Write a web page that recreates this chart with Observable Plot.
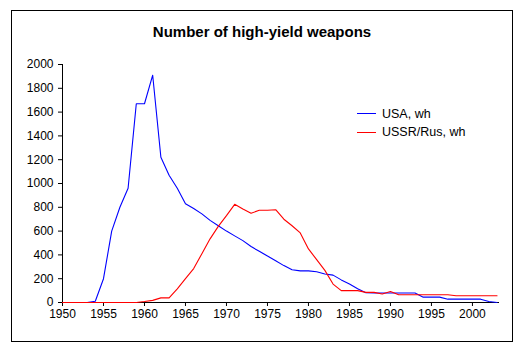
<!DOCTYPE html>
<html>
<head>
<meta charset="utf-8">
<script src="https://cdn.jsdelivr.net/npm/d3@7"></script>
<script src="https://cdn.jsdelivr.net/npm/@observablehq/plot@0.6"></script>
<style>
  html, body { margin: 0; padding: 0; background: #fff; }
  #wrap { position: relative; width: 524px; height: 352px; font-family: "Liberation Sans", Arial, sans-serif; color: #000; }
  #frame { position: absolute; left: 11px; top: 10px; width: 502px; height: 332px; border: 1px solid #000; box-sizing: border-box; pointer-events: none; }
  #title { position: absolute; left: 0; width: 524px; top: 24px; text-align: center; font-weight: bold; font-size: 15px; line-height: 15px; }
  .leg { position: absolute; left: 357px; font-size: 12.5px; line-height: 12.5px; white-space: nowrap; display: flex; align-items: center; }
  .leg .sw { display: inline-block; width: 19px; height: 0; border-top: 1px solid; margin-right: 6px; }
  #chart svg { display: block; }
</style>
</head>
<body>
<div id="wrap">
  <div id="chart"></div>
  <div id="frame"></div>
  <div id="title"></div>
  <div id="legend"></div>
</div>
<script>
const chartTitle = "Number of high-yield weapons";
const seriesNames = ["USA, wh", "USSR/Rus, wh"];
const seriesColors = ["#0000ff", "#ff0000"];
const years = [1950, 1951, 1952, 1953, 1954, 1955, 1956, 1957, 1958, 1959,
  1960, 1961, 1962, 1963, 1964, 1965, 1966, 1967, 1968, 1969,
  1970, 1971, 1972, 1973, 1974, 1975, 1976, 1977, 1978, 1979,
  1980, 1981, 1982, 1983, 1984, 1985, 1986, 1987, 1988, 1989,
  1990, 1991, 1992, 1993, 1994, 1995, 1996, 1997, 1998, 1999,
  2000, 2001, 2002, 2003];
const usa = [0, 0, 0, 0, 10, 200, 600, 800, 960, 1670,
  1670, 1910, 1220, 1070, 960, 830, 790, 745, 690, 645,
  600, 560, 520, 470, 430, 390, 350, 310, 275, 266,
  266, 258, 240, 230, 190, 155, 115, 82, 80, 80,
  80, 80, 80, 80, 45, 45, 45, 28, 28, 28,
  28, 28, 8, 0];
const ussr = [0, 0, 0, 0, 0, 0, 0, 0, 0, 0,
  8, 18, 39, 39, 115, 200, 285, 410, 535, 640,
  730, 825, 785, 750, 775, 775, 780, 700, 645, 585,
  450, 360, 270, 155, 100, 100, 100, 85, 85, 72,
  92, 65, 65, 65, 65, 65, 65, 65, 57, 57,
  57, 57, 57, 57];
const xTicks = [1950, 1955, 1960, 1965, 1970, 1975, 1980, 1985, 1990, 1995, 2000];
const yTicks = [0, 200, 400, 600, 800, 1000, 1200, 1400, 1600, 1800, 2000];

const data = [
  ...years.map((yr, i) => ({year: yr, value: usa[i], series: seriesNames[0]})),
  ...years.map((yr, i) => ({year: yr, value: ussr[i], series: seriesNames[1]}))
];

const fmt = d => String(d);

const chart = Plot.plot({
  width: 524,
  height: 352,
  marginLeft: 62,
  marginRight: 25,
  marginTop: 64,
  marginBottom: 50,
  style: {fontFamily: "'Liberation Sans', Arial, sans-serif", fontSize: "12px", color: "#000", background: "transparent", overflow: "visible"},
  x: {domain: [1950, 2003.3], label: null},
  y: {domain: [0, 2000], label: null},
  color: {domain: seriesNames, range: seriesColors},
  marks: [
    Plot.axisX({ticks: xTicks, tickFormat: fmt, tickSize: 4, tickPadding: 3, label: null, fontSize: 12}),
    Plot.axisY({ticks: yTicks, tickFormat: fmt, tickSize: 4, tickPadding: 5, label: null, fontSize: 12}),
    Plot.ruleX([1950], {stroke: "#000"}),
    Plot.ruleY([0], {stroke: "#000"}),
    Plot.line(data, {x: "year", y: "value", z: "series", stroke: "series", strokeWidth: 1.1})
  ]
});
document.getElementById("chart").appendChild(chart);

document.getElementById("title").textContent = chartTitle;
const legendTops = [108.5, 127];
const leg = document.getElementById("legend");
seriesNames.forEach((name, i) => {
  const row = document.createElement("div");
  row.className = "leg";
  row.style.top = (legendTops[i] - 1) + "px";
  const sw = document.createElement("span");
  sw.className = "sw";
  sw.style.borderTopColor = seriesColors[i];
  row.appendChild(sw);
  row.appendChild(document.createTextNode(name));
  leg.appendChild(row);
});
</script>
</body>
</html>
